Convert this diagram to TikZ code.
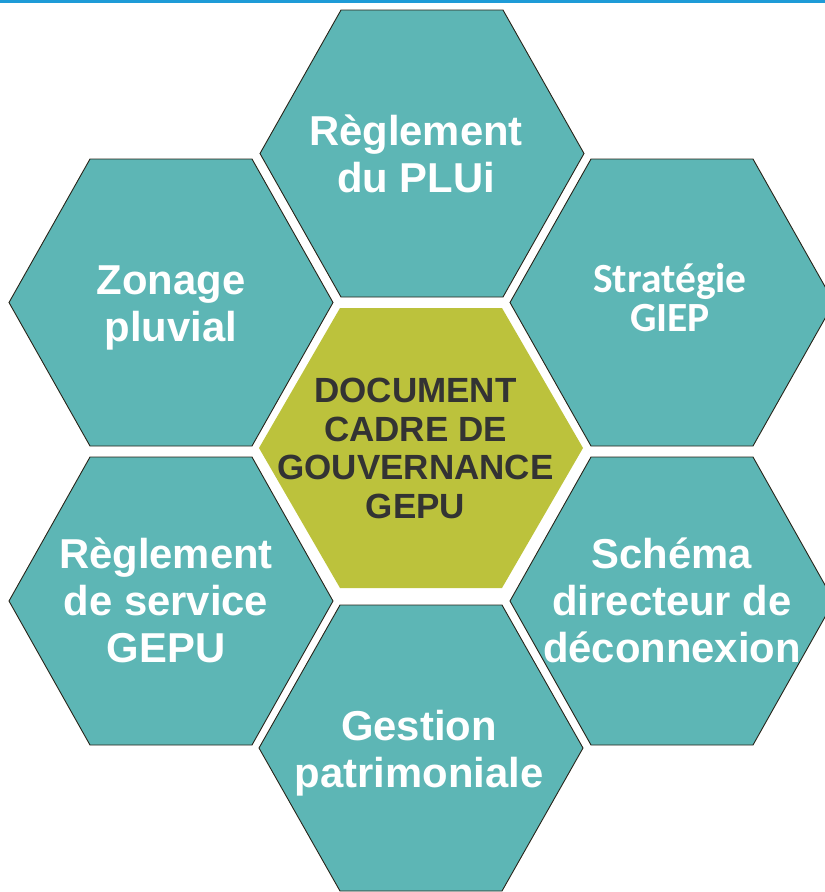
\documentclass[tikz,border=0pt]{standalone}
\usepackage{fontspec}
\setmainfont{Liberation Sans}
\newfontfamily\carlfont{Carlito}
\definecolor{hexteal}{RGB}{93,182,181}
\definecolor{hexolive}{RGB}{188,194,60}
\definecolor{topblue}{RGB}{30,155,215}
\definecolor{hexedge}{RGB}{40,36,25}
\definecolor{darktext}{RGB}{51,51,51}
\newcommand\hexa[4]{% cx, cy, half-height, style
  \path[#4] (#1-162,#2) -- (#1-81,#2-#3) -- (#1+81,#2-#3) -- (#1+162,#2)
    -- (#1+81,#2+#3) -- (#1-81,#2+#3) -- cycle;}
\tikzset{
  tealhex/.style={fill=hexteal, draw=hexedge, line width=0.9pt, line join=miter},
  olivehex/.style={fill=hexolive},
  whitelbl/.style={text=white, font=\bfseries\fontsize{41.8}{47}\selectfont, align=center, inner sep=0pt, anchor=base},
  carllbl/.style={text=white, font=\carlfont\bfseries\fontsize{41.5}{39}\selectfont, align=center, inner sep=0pt, anchor=base},
  centerlbl/.style={text=darktext, font=\bfseries\fontsize{35}{38.5}\selectfont, align=center, inner sep=0pt, anchor=base}
}
\begin{document}
\begin{tikzpicture}[x=1pt,y=-1pt]
\useasboundingbox (0,0) rectangle (825,892);
\clip (0,0) rectangle (825,892);
\fill[topblue] (0,0.2) rectangle (825,2.6);
% hexagons
\hexa{422}{153.5}{143.5}{tealhex}
\hexa{171}{302.5}{143.5}{tealhex}
\hexa{672}{302.5}{143.5}{tealhex}
\hexa{171}{601}{144}{tealhex}
\hexa{672}{601}{144}{tealhex}
\hexa{421}{748}{143}{tealhex}
\hexa{421}{448}{140}{olivehex}
% labels (anchor base = baseline of the last line)
\node[whitelbl] (plui) at (416,192) {Règlement\\du PLUi};
\node[whitelbl] (zonage) at (171,341) {Zonage\\pluvial};
\node[carllbl] (giep) at (670,331) {Stratégie\\GIEP};
\node[centerlbl] (doc) at (415.5,518) {DOCUMENT\\CADRE DE\\GOUVERNANCE\\GEPU};
\node[whitelbl] (service) at (166,662) {Règlement\\de service\\GEPU};
\node[whitelbl] (schema) at (672,662) {Schéma\\directeur de\\déconnexion};
\node[whitelbl] (gestion) at (419,787) {Gestion\\patrimoniale};
\end{tikzpicture}
\end{document}
